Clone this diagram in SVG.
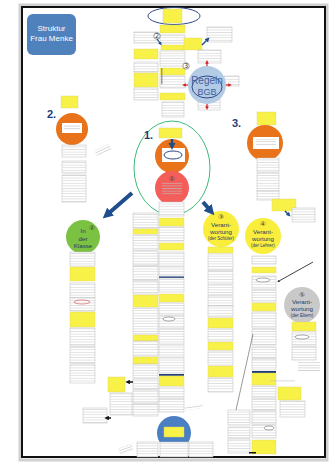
<svg xmlns="http://www.w3.org/2000/svg" width="333" height="462" viewBox="0 0 333 462">
<defs>
<pattern id="wl" width="3" height="2.6" patternUnits="userSpaceOnUse"><rect width="3" height="2.6" fill="#fff"/><rect y="1" width="3" height="0.6" fill="#d2d2d2"/></pattern>
<pattern id="gl" width="3" height="2.6" patternUnits="userSpaceOnUse"><rect y="1" width="3" height="0.6" fill="#c0c0c0"/></pattern>
<marker id="bb" viewBox="0 0 10 10" refX="2" refY="5" markerWidth="2.6" markerHeight="2.6" orient="auto"><path d="M0,0 L10,5 L0,10 z" fill="#1f4e8c"/></marker>
<marker id="sb" viewBox="0 0 10 10" refX="2" refY="5" markerWidth="3" markerHeight="3" orient="auto"><path d="M0,0 L10,5 L0,10 z" fill="#1f4e8c"/></marker>
<marker id="ka" viewBox="0 0 10 10" refX="2" refY="5" markerWidth="3" markerHeight="3" orient="auto"><path d="M0,0 L10,5 L0,10 z" fill="#111"/></marker>
<marker id="ra" viewBox="0 0 10 10" refX="2" refY="5" markerWidth="3" markerHeight="3" orient="auto"><path d="M0,0 L10,5 L0,10 z" fill="#d42020"/></marker>
</defs>
<style>
.w{fill:url(#wl);stroke:#bdbdbd;stroke-width:0.5}
.y{fill:#f8f148;stroke:#dcd46a;stroke-width:0.4}
.g{fill:url(#gl)}
.bar{fill:#1f3c78}
.t{font-family:"Liberation Sans",Arial,sans-serif;text-anchor:middle}
.ct{font-family:"Liberation Sans",Arial,sans-serif;text-anchor:middle;fill:#1f3864;font-size:6.2px}
.sm{font-size:4.5px}
.num{font-family:"DejaVu Sans",sans-serif;text-anchor:middle;font-size:6.5px;fill:#333}
.sec{font-family:"Liberation Sans",Arial,sans-serif;font-weight:bold;font-size:11px;fill:#1f3c78}
.ol{fill:none;stroke:#2e4a86;stroke-width:1}
</style>
<rect width="333" height="462" fill="#fff"/>
<rect x="20" y="5" width="307" height="455" fill="none" stroke="#d0d0d0" stroke-width="3"/>
<rect x="22" y="7" width="303" height="450" fill="#fff" stroke="#111" stroke-width="2"/>

<g id="title">
<rect x="27" y="14" width="49" height="41" rx="6" fill="#4f81bd"/>
<text class="t" x="51.5" y="31" font-size="8" fill="#fff">Struktur</text>
<text class="t" x="51.5" y="41" font-size="8" fill="#fff">Frau Menke</text>
</g>

<g id="top-notes">
<ellipse cx="174" cy="16" rx="26" ry="8.5" class="ol" stroke-width="1.2"/>
<rect class="y" x="163" y="9" width="19" height="14"/>
<rect class="y" x="160" y="25" width="25" height="8"/>
<rect class="w" x="160" y="35" width="25" height="8"/>
<rect class="y" x="161" y="45" width="23" height="5"/>
<rect class="w" x="160" y="51" width="25" height="15"/>
<rect class="y" x="160" y="68" width="25" height="7"/>
<rect class="w" x="160" y="76" width="25" height="12"/>
<rect class="y" x="160" y="93" width="25" height="7"/>
<rect class="w" x="162" y="102" width="22" height="15"/>
<rect x="161" y="68" width="1.5" height="16" fill="#999"/>
<rect class="w" x="134" y="32" width="24" height="11"/>
<rect class="y" x="134" y="49" width="24" height="10"/>
<rect class="w" x="134" y="62" width="24" height="10"/>
<rect class="y" x="134" y="73" width="24" height="14"/>
<rect class="w" x="134" y="88" width="24" height="12"/>
<circle cx="157" cy="36" r="3.2" fill="#fff" stroke="#333" stroke-width="0.5"/>
<text class="num" x="157" y="38.2" font-size="5">2</text>
<circle cx="186" cy="66" r="3.2" fill="#fff" stroke="#333" stroke-width="0.5"/>
<text class="num" x="186" y="68.2" font-size="5">3</text>
<rect class="y" x="184" y="38" width="18" height="12"/>
<rect class="w" x="207" y="27" width="25" height="15"/>
<rect class="w" x="198" y="50" width="23" height="13"/>
<rect class="w" x="224" y="76" width="15" height="10"/>
<rect class="w" x="198" y="94" width="22" height="16"/>
</g>

<g id="regeln-bgb">
<circle cx="207" cy="85" r="19" fill="#b4cbe6"/>
<ellipse cx="207" cy="87" rx="15" ry="11" class="ol" stroke-width="1.2"/>
<text class="t" x="207" y="84" font-size="10" fill="#3f5f9e">Regeln</text>
<text class="t" x="207" y="95" font-size="9" fill="#3f5f9e">BGB</text>
</g>

<g id="sec2">
<text class="sec" x="47" y="118">2.</text>
<rect class="y" x="61" y="96" width="17" height="12"/>
<circle cx="72" cy="129" r="16" fill="#e8731a"/>
<rect x="62" y="123" width="20" height="10" fill="#fff"/>
<rect class="g" x="64" y="125" width="16" height="6"/>
<rect class="w" x="62" y="145" width="24" height="12"/>
<rect class="w" x="62" y="161" width="24" height="12"/>
<rect class="w" x="62" y="175" width="24" height="27"/>
<rect class="g" x="95" y="147" width="16" height="6" transform="rotate(-25 103 150)"/>
</g>

<g id="sec1">
<ellipse cx="172" cy="168" rx="38" ry="47" fill="none" stroke="#3dba7a" stroke-width="1"/>
<text class="sec" x="144" y="139">1.</text>
<rect class="y" x="159" y="128" width="23" height="10"/>
<circle cx="172" cy="156" r="17" fill="#e8731a"/>
<rect x="162" y="148" width="23" height="14" fill="#fff"/>
<ellipse cx="173" cy="155" rx="9" ry="4" class="ol"/>
<circle cx="172" cy="188" r="17" fill="#f35d5a"/>
<text class="num" x="172" y="181" fill="#7a1010">①</text>
<rect class="g" x="162" y="183" width="20" height="12"/>
<rect class="w" x="159" y="202" width="25" height="14"/>
</g>

<g id="sec3">
<text class="sec" x="232" y="127">3.</text>
<rect class="y" x="257" y="112" width="19" height="13"/>
<circle cx="265" cy="143" r="18" fill="#e8731a"/>
<rect x="253" y="137" width="26" height="12" fill="#fff"/>
<rect class="g" x="256" y="139" width="20" height="7"/>
<rect class="w" x="257" y="158" width="22" height="14"/>
<rect class="w" x="257" y="173" width="22" height="18"/>
<rect class="w" x="257" y="191" width="22" height="9"/>
<rect class="y" x="272" y="199" width="24" height="12"/>
<rect class="w" x="292" y="208" width="23" height="14"/>
</g>

<g id="klasse">
<circle cx="83" cy="237" r="17" fill="#7cc242"/>
<text class="ct" x="83" y="233">In</text>
<text class="ct" x="83" y="240.5">der</text>
<text class="ct" x="83" y="248">Klasse</text>
<text class="num" x="92" y="230" fill="#1f3864">②</text>
<rect class="w" x="70" y="252" width="25" height="14"/>
<rect class="y" x="70" y="267" width="25" height="14"/>
<rect class="w" x="70" y="283" width="25" height="15"/>
<rect class="w" x="70" y="298" width="25" height="13"/>
<ellipse cx="82" cy="302" rx="8" ry="2" fill="none" stroke="#d42020" stroke-width="0.5"/>
<rect class="y" x="70" y="312" width="25" height="15"/>
<rect class="w" x="70" y="328" width="25" height="18"/>
<rect class="w" x="70" y="347" width="25" height="16"/>
<rect class="w" x="70" y="364" width="25" height="19"/>
</g>

<g id="col-a">
<rect class="w" x="133" y="213" width="25" height="15"/>
<rect class="y" x="133" y="229" width="25" height="5"/>
<rect class="w" x="133" y="235" width="25" height="15"/>
<rect class="w" x="133" y="251" width="25" height="14"/>
<rect class="w" x="133" y="266" width="25" height="14"/>
<rect class="w" x="133" y="281" width="25" height="13"/>
<rect class="y" x="133" y="295" width="25" height="12"/>
<rect class="w" x="133" y="308" width="25" height="26"/>
<rect class="y" x="133" y="335" width="25" height="6"/>
<rect class="w" x="133" y="341" width="25" height="15"/>
<rect class="y" x="133" y="357" width="25" height="7"/>
<rect class="w" x="133" y="364" width="25" height="14"/>
<rect class="w" x="133" y="379" width="25" height="10"/>
<rect class="w" x="133" y="390" width="25" height="13"/>
<rect class="w" x="133" y="404" width="25" height="12"/>
</g>

<g id="col-b">
<rect class="y" x="159" y="218" width="25" height="8"/>
<rect class="w" x="159" y="227" width="25" height="14"/>
<rect class="y" x="159" y="243" width="25" height="7"/>
<rect class="w" x="159" y="252" width="25" height="14"/>
<rect class="w" x="159" y="267" width="25" height="9"/>
<rect class="bar" x="159" y="276.5" width="25" height="1.5"/>
<rect class="w" x="159" y="278" width="25" height="14"/>
<rect class="y" x="159" y="294" width="25" height="8"/>
<rect class="w" x="159" y="303" width="25" height="12"/>
<rect class="w" x="159" y="316" width="25" height="12"/>
<ellipse cx="169" cy="319" rx="6" ry="2" fill="#fff" stroke="#555" stroke-width="0.5"/>
<rect class="w" x="159" y="329" width="25" height="15"/>
<rect class="w" x="159" y="345" width="25" height="12"/>
<rect class="w" x="159" y="358" width="25" height="15"/>
<rect class="bar" x="159" y="374" width="25" height="1.8"/>
<rect class="y" x="159" y="376" width="25" height="10"/>
<rect class="w" x="159" y="387" width="25" height="11"/>
<rect class="w" x="159" y="399" width="25" height="13"/>
<rect class="g" x="185" y="405" width="18" height="4" transform="rotate(-8 194 407)"/>
</g>

<g id="loesung-left">
<rect class="y" x="108" y="377" width="17" height="15"/>
<rect class="w" x="110" y="393" width="22" height="22"/>
<rect class="w" x="83" y="408" width="24" height="15"/>
</g>

<g id="schueler">
<circle cx="221" cy="229" r="18" fill="#f9ee3c"/>
<text class="num" x="221" y="219" fill="#1f3864">③</text>
<text class="ct" x="221" y="227">Verant-</text>
<text class="ct" x="221" y="234">wortung</text>
<text class="ct sm" x="221" y="240">(der Schüler)</text>
<rect class="y" x="208" y="247" width="25" height="6"/>
<rect class="w" x="208" y="254" width="25" height="16"/>
<rect class="w" x="208" y="271" width="25" height="13"/>
<rect class="w" x="208" y="285" width="25" height="10"/>
<rect class="w" x="208" y="296" width="25" height="10"/>
<rect class="w" x="208" y="306" width="25" height="11"/>
<rect class="y" x="208" y="318" width="25" height="10"/>
<rect class="w" x="208" y="329" width="25" height="12"/>
<rect class="y" x="208" y="342" width="25" height="8"/>
<rect class="w" x="208" y="351" width="25" height="14"/>
<rect class="y" x="208" y="366" width="25" height="11"/>
<rect class="w" x="208" y="378" width="25" height="14"/>
</g>

<g id="lehrer">
<circle cx="263" cy="236" r="18" fill="#f9ee3c"/>
<text class="num" x="263" y="226" fill="#1f3864">④</text>
<text class="ct" x="263" y="234">Verant-</text>
<text class="ct" x="263" y="241">wortung</text>
<text class="ct sm" x="263" y="247">(der Lehrer)</text>
<rect class="w" x="252" y="256" width="24" height="8"/>
<rect class="y" x="252" y="267" width="24" height="6"/>
<rect class="w" x="252" y="276" width="24" height="13"/>
<ellipse cx="263" cy="280" rx="7" ry="2" fill="#fff" stroke="#555" stroke-width="0.5"/>
<rect class="w" x="252" y="290" width="24" height="12"/>
<rect class="y" x="252" y="303" width="24" height="8"/>
<rect class="w" x="252" y="312" width="24" height="16"/>
<rect class="w" x="252" y="329" width="24" height="16"/>
<rect class="w" x="252" y="347" width="24" height="11"/>
<rect class="w" x="252" y="359" width="24" height="11"/>
<rect class="bar" x="252" y="371" width="24" height="2"/>
<rect class="y" x="252" y="373" width="24" height="12"/>
<rect class="g" x="270" y="379" width="25" height="3"/>
<rect class="w" x="252" y="386" width="24" height="12"/>
<rect class="w" x="252" y="399" width="24" height="11"/>
<rect class="w" x="252" y="411" width="24" height="13"/>
<rect class="w" x="252" y="425" width="24" height="13"/>
<ellipse cx="269" cy="428" rx="5" ry="2" fill="#fff" stroke="#555" stroke-width="0.5"/>
<rect class="y" x="252" y="440" width="24" height="14"/>
<rect class="y" x="278" y="387" width="23" height="13"/>
<rect class="w" x="280" y="401" width="25" height="16"/>
<rect class="w" x="228" y="410" width="22" height="15"/>
<rect class="w" x="228" y="427" width="22" height="11"/>
<rect class="w" x="228" y="439" width="22" height="14"/>
<rect x="249" y="452" width="7" height="1.5" fill="#111"/>
</g>

<g id="eltern">
<circle cx="302" cy="305" r="18" fill="#c9c9c9"/>
<text class="num" x="302" y="297" fill="#1f3864">⑤</text>
<text class="ct" x="302" y="304">Verant-</text>
<text class="ct" x="302" y="311">wortung</text>
<text class="ct sm" x="302" y="317">(der Eltern)</text>
<rect class="y" x="292" y="322" width="24" height="9"/>
<rect class="w" x="292" y="332" width="24" height="14"/>
<ellipse cx="302" cy="337" rx="7" ry="2" fill="#fff" stroke="#555" stroke-width="0.5"/>
<rect class="w" x="292" y="347" width="24" height="13"/>
<rect class="g" x="298" y="362" width="22" height="10"/>
</g>

<g id="bottom">
<circle cx="174" cy="433" r="17" fill="#4a7fc1"/>
<rect class="y" x="164" y="427" width="20" height="10"/>
<rect class="w" x="137" y="442" width="21" height="15"/>
<rect class="w" x="160" y="442" width="28" height="15"/>
<rect class="w" x="189" y="442" width="24" height="15"/>
<rect class="g" x="119" y="446" width="14" height="7" transform="rotate(-20 126 450)"/>
</g>

<g id="connectors" fill="none">
<line x1="132" y1="193" x2="109" y2="213" stroke="#1f4e8c" stroke-width="4" marker-end="url(#bb)"/>
<line x1="203" y1="202" x2="209" y2="209" stroke="#1f4e8c" stroke-width="4" marker-end="url(#bb)"/>
<line x1="172" y1="139" x2="172" y2="144" stroke="#1f4e8c" stroke-width="2.5" marker-end="url(#sb)"/>
<line x1="202" y1="45" x2="207" y2="40" stroke="#1f4e8c" stroke-width="1.5" marker-end="url(#sb)"/>
<line x1="157" y1="39" x2="160" y2="43" stroke="#1f4e8c" stroke-width="1.2" marker-end="url(#sb)"/>
<line x1="285" y1="211" x2="288" y2="214" stroke="#1f4e8c" stroke-width="1.5" marker-end="url(#sb)"/>
<line x1="207" y1="66" x2="207" y2="63" stroke="#d42020" stroke-width="1.2" marker-end="url(#ra)"/>
<line x1="207" y1="104" x2="207" y2="107" stroke="#d42020" stroke-width="1.2" marker-end="url(#ra)"/>
<line x1="188" y1="85" x2="185" y2="85" stroke="#d42020" stroke-width="1.2" marker-end="url(#ra)"/>
<line x1="226" y1="85" x2="229" y2="85" stroke="#d42020" stroke-width="1.2" marker-end="url(#ra)"/>
<line x1="133" y1="382" x2="129" y2="382" stroke="#111" stroke-width="1.5" marker-end="url(#ka)"/>
<line x1="111" y1="418" x2="108" y2="418" stroke="#111" stroke-width="1.5" marker-end="url(#ka)"/>
<line x1="313" y1="262" x2="279" y2="281" stroke="#111" stroke-width="0.8" marker-end="url(#ka)"/>
<line x1="253" y1="334" x2="236" y2="410" stroke="#333" stroke-width="0.5"/>
</g>
</svg>
